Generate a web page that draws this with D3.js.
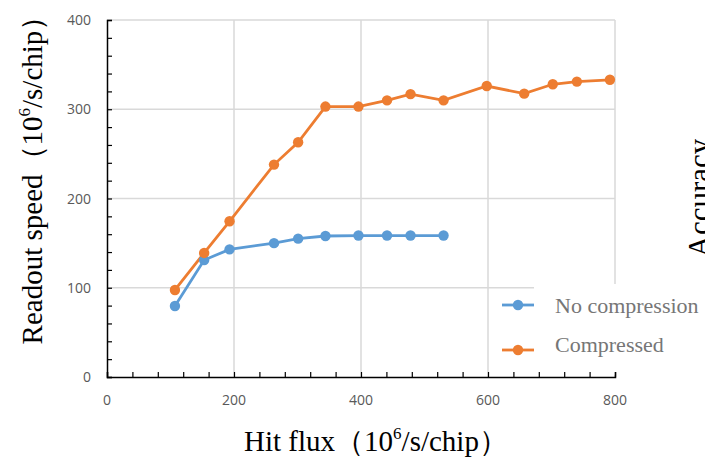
<!DOCTYPE html>
<html>
<head>
  <meta charset="utf-8" />
  <title>Readout speed vs hit flux</title>
  <script src="https://cdn.jsdelivr.net/npm/d3@7"></script>
  <style>
    body { margin: 0; background: #fff; }
    svg { display: block; }
  </style>
</head>
<body>
  <div id="chart"></div>
  <script type="text/javascript">

    // values
    var seriesNames = ["No compression", "Compressed"];
    var fluxNoComp = [107, 153, 193, 263, 301, 344, 396, 441, 478, 530];
    var speedNoComp = [79.5, 131, 143, 150, 155, 158, 158.5, 158.5, 158.5, 158.5];
    var fluxComp = [107, 153, 193, 263, 301, 344, 396, 441, 478, 530, 598, 657, 702, 740, 792];
    var speedComp = [97.5, 139, 174.5, 238, 263, 303, 303, 310, 317, 310, 326, 317.5, 328, 331, 333];
    var xTicks = [0, 200, 400, 600, 800];
    var yTicks = [0, 100, 200, 300, 400];

    var colors = ["#5b9bd5", "#ed7d31"];
    var W = 705, H = 461;

    var svg = d3.select("#chart").append("svg")
      .attr("width", W).attr("height", H);

    var x = d3.scaleLinear().domain([0, 800]).range([107, 615]);
    var y = d3.scaleLinear().domain([0, 400]).range([377, 20]);

    /* grid lines */
    var grid = svg.append("g").attr("stroke", "#d9d9d9").attr("stroke-width", 1.5);
    grid.selectAll(".h").data(yTicks.slice(1)).enter().append("line")
      .attr("x1", x(0)).attr("x2", x(800))
      .attr("y1", function (d) { return y(d); }).attr("y2", function (d) { return y(d); });
    grid.selectAll(".v").data(xTicks.slice(1)).enter().append("line")
      .attr("y1", y(0)).attr("y2", y(400))
      .attr("x1", function (d) { return x(d); }).attr("x2", function (d) { return x(d); });

    /* white legend box sits over the grid */
    svg.append("rect").attr("x", 534).attr("y", 284)
      .attr("width", W - 534).attr("height", 91).attr("fill", "#fff");

    /* axes, ticks pointing inward */
    var xAxis = d3.axisBottom(x).tickValues(d3.range(0, 801, 40))
      .tickSize(-5).tickFormat("");
    var yAxis = d3.axisLeft(y).tickValues(d3.range(0, 401, 20))
      .tickSize(-5).tickFormat("");

    var gx = svg.append("g").attr("transform", "translate(0," + y(0) + ")").call(xAxis);
    var gy = svg.append("g").attr("transform", "translate(" + x(0) + ",0)").call(yAxis);
    [gx, gy].forEach(function (g) {
      g.select(".domain").attr("stroke", "#000").attr("stroke-width", 1.5);
      g.selectAll(".tick line").attr("stroke", "#000").attr("stroke-width", 1.2);
    });

    svg.append("g").selectAll("text").data(xTicks).enter().append("text")
      .attr("x", function (d) { return x(d); }).attr("y", 405)
      .attr("text-anchor", "middle")
      .attr("font-family", "'Open Sans', sans-serif").attr("font-size", 14)
      .attr("fill", "#595959")
      .text(function (d) { return d; });

    svg.append("g").selectAll("text").data(yTicks).enter().append("text")
      .attr("x", 91).attr("y", function (d) { return y(d) + 5; })
      .attr("text-anchor", "end")
      .attr("font-family", "'Open Sans', sans-serif").attr("font-size", 14)
      .attr("fill", "#595959")
      .text(function (d) { return d; });

    /* axis titles */
    var serif = "'Liberation Serif', 'Times New Roman', serif";
    var xt = svg.append("text").attr("x", 376).attr("y", 451)
      .attr("text-anchor", "middle").attr("font-family", serif).attr("font-size", 29);
    xt.append("tspan").text("Hit flux（10");
    xt.append("tspan").attr("dy", -12).attr("font-size", 17).text("6");
    xt.append("tspan").attr("dy", 12).text("/s/chip）");

    var yt = svg.append("text").attr("transform", "translate(42,173) rotate(-90)")
      .attr("text-anchor", "middle").attr("font-family", serif).attr("font-size", 29);
    yt.append("tspan").text("Readout speed（10");
    yt.append("tspan").attr("dy", -12).attr("font-size", 17).text("6");
    yt.append("tspan").attr("dy", 12).text("/s/chip）");

    // title of the neighbouring chart, cut off at the right edge as in the source
    svg.append("text").attr("transform", "translate(710,198) rotate(-90)")
      .attr("text-anchor", "middle").attr("font-family", serif).attr("font-size", 31)
      .text("Accuracy");

    /* series */
    var series = [
      fluxNoComp.map(function (f, i) { return [f, speedNoComp[i]]; }),
      fluxComp.map(function (f, i) { return [f, speedComp[i]]; })
    ];
    var line = d3.line().x(function (d) { return x(d[0]); }).y(function (d) { return y(d[1]); });

    series.forEach(function (s, k) {
      svg.append("path").datum(s).attr("d", line)
        .attr("fill", "none").attr("stroke", colors[k]).attr("stroke-width", 2.8);
    });
    series.forEach(function (s, k) {
      svg.append("g").selectAll("circle").data(s).enter().append("circle")
        .attr("cx", function (d) { return x(d[0]); })
        .attr("cy", function (d) { return y(d[1]); })
        .attr("r", 5.2).attr("fill", colors[k]);
    });

    /* legend */
    var leg = svg.append("g").selectAll("g").data(seriesNames).enter().append("g")
      .attr("transform", function (d, i) { return "translate(0," + (305 + i * 45) + ")"; });
    leg.append("line").attr("x1", 502).attr("x2", 534).attr("y1", 0).attr("y2", 0)
      .attr("stroke", function (d, i) { return colors[i]; }).attr("stroke-width", 2.8);
    leg.append("circle").attr("cx", 518).attr("cy", 0).attr("r", 5.2)
      .attr("fill", function (d, i) { return colors[i]; });
    leg.append("text").attr("x", 555).attr("y", function (d, i) { return i ? 2 : 8; })
      .attr("font-family", serif).attr("font-size", 22).attr("fill", "#767676")
      .text(function (d) { return d; });

  </script>
</body>
</html>
